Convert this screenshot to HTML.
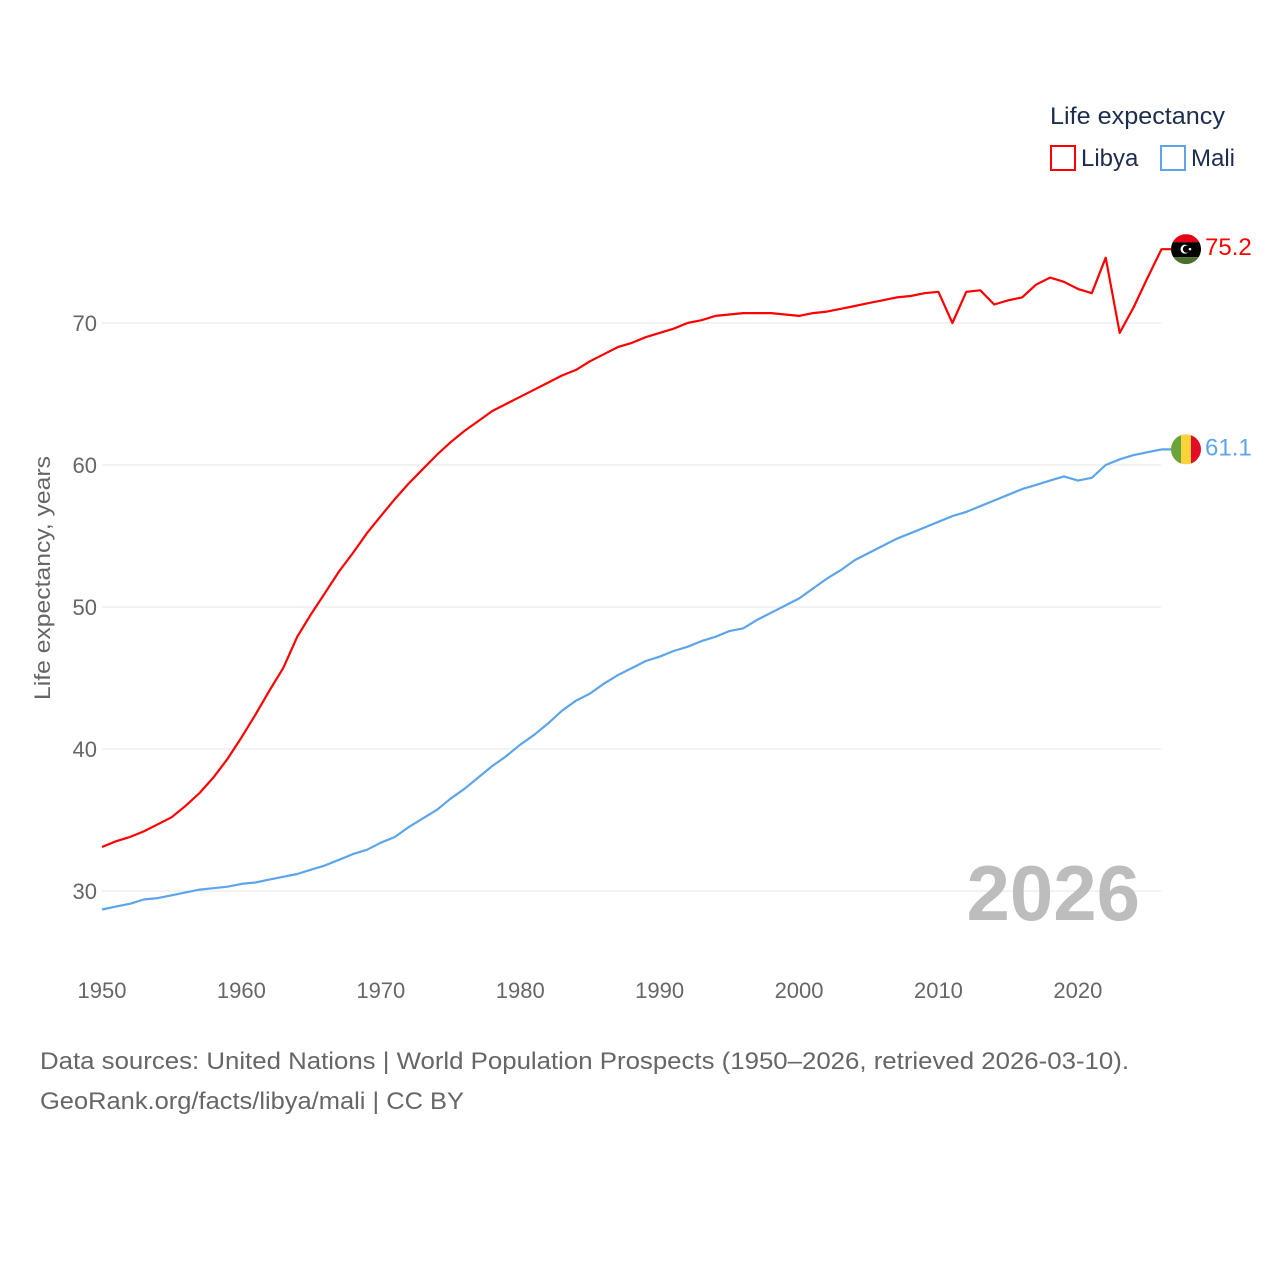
<!DOCTYPE html>
<html><head><meta charset="utf-8">
<style>
html,body{margin:0;padding:0;background:#fff;}
svg{display:block;font-family:"Liberation Sans",sans-serif;}
</style></head>
<body>
<svg id="chart" width="1280" height="1280" viewBox="0 0 1280 1280" xmlns="http://www.w3.org/2000/svg">
<g id="grid"></g>
<g id="yticks"></g>
<g id="xticks"></g>
<text transform="translate(50,578) rotate(-90)" text-anchor="middle" font-size="22" fill="#666" textLength="244" lengthAdjust="spacingAndGlyphs">Life expectancy, years</text>
<text x="1140" y="920" text-anchor="end" font-size="78" font-weight="bold" fill="#bdbdbd">2026</text>
<g id="series"></g>
<g>
<text x="1050" y="124" font-size="24" fill="#1d2d4d" textLength="175" lengthAdjust="spacingAndGlyphs">Life expectancy</text>
<g>
<rect x="1051" y="146" width="24" height="24" fill="none" stroke="#ff0000" stroke-width="2"/>
<text x="1081" y="166" font-size="24" fill="#1d2d4d">Libya</text>
</g>
<g>
<rect x="1161" y="146" width="24" height="24" fill="none" stroke="#5da5ea" stroke-width="2"/>
<text x="1191" y="166" font-size="24" fill="#1d2d4d">Mali</text>
</g>
</g>
<g id="endlabels"></g>
<text x="40" y="1069" font-size="24" fill="#666" textLength="1089" lengthAdjust="spacingAndGlyphs">Data sources: United Nations | World Population Prospects (1950–2026, retrieved 2026-03-10).</text>
<text x="40" y="1109" font-size="24" fill="#666" textLength="424" lengthAdjust="spacingAndGlyphs">GeoRank.org/facts/libya/mali | CC BY</text>
</svg>
<script>
const years = [];
for (let y = 1950; y <= 2026; y++) years.push(y);
const libya = [33.1,33.5,33.8,34.2,34.7,35.2,36.0,36.9,38.0,39.3,40.8,42.4,44.1,45.7,47.9,49.5,51.0,52.5,53.8,55.2,56.4,57.6,58.7,59.7,60.7,61.6,62.4,63.1,63.8,64.3,64.8,65.3,65.8,66.3,66.7,67.3,67.8,68.3,68.6,69.0,69.3,69.6,70.0,70.2,70.5,70.6,70.7,70.7,70.7,70.6,70.5,70.7,70.8,71.0,71.2,71.4,71.6,71.8,71.9,72.1,72.2,70.0,72.2,72.3,71.3,71.6,71.8,72.7,73.2,72.9,72.4,72.1,74.6,69.3,71.1,73.2,75.2];
const mali = [28.7,28.9,29.1,29.4,29.5,29.7,29.9,30.1,30.2,30.3,30.5,30.6,30.8,31.0,31.2,31.5,31.8,32.2,32.6,32.9,33.4,33.8,34.5,35.1,35.7,36.5,37.2,38.0,38.8,39.5,40.3,41.0,41.8,42.7,43.4,43.9,44.6,45.2,45.7,46.2,46.5,46.9,47.2,47.6,47.9,48.3,48.5,49.1,49.6,50.1,50.6,51.3,52.0,52.6,53.3,53.8,54.3,54.8,55.2,55.6,56.0,56.4,56.7,57.1,57.5,57.9,58.3,58.6,58.9,59.2,58.9,59.1,60.0,60.4,60.7,60.9,61.1];
const yTicks = [30,40,50,60,70];
const xTicks = [1950,1960,1970,1980,1990,2000,2010,2020];

const NS = "http://www.w3.org/2000/svg";
const xS = yr => 102 + (yr - 1950) * (1161.5 - 102) / 76;
const yS = v => 323 + (70 - v) * 14.2;
function mk(tag, attrs, parent) {
  const e = document.createElementNS(NS, tag);
  for (const k in attrs) e.setAttribute(k, attrs[k]);
  parent.appendChild(e);
  return e;
}
const grid = document.getElementById('grid'), yt = document.getElementById('yticks'), xt = document.getElementById('xticks');
yTicks.forEach(v => {
  const l = mk('line', {x1: 102, x2: 1161, y1: yS(v), y2: yS(v), stroke: '#e6e6e6', 'stroke-width': 1}, grid);
  
  
  const t = mk('text', {x: 97, y: yS(v) + 8, 'text-anchor': 'end', 'font-size': 22, fill: '#666'}, yt);
  t.textContent = v;
  
  
});
xTicks.forEach(v => {
  const t = mk('text', {x: xS(v), y: 998, 'text-anchor': 'middle', 'font-size': 22, fill: '#666'}, xt);
  t.textContent = v;
  
  
});
const series = document.getElementById('series');
function line(vals, color, name) {
  let d = vals.map((v, i) => (i ? 'L' : 'M') + xS(years[i]).toFixed(1) + ' ' + yS(v).toFixed(1)).join(' ');
  d += ' L 1172 ' + yS(vals[vals.length - 1]).toFixed(1);
  const p = mk('path', {d: d, fill: 'none', stroke: color, 'stroke-width': 2.2, 'stroke-linejoin': 'round'}, series);
  
  
}
line(mali, '#5da5ea', 'line-mali');
line(libya, '#ff0000', 'line-libya');

const el = document.getElementById('endlabels');
const ly = yS(libya[libya.length - 1]), my = yS(mali[mali.length - 1]);
const cx = 1186;
const defs = mk('defs', {}, el);
const c1 = mk('clipPath', {id: 'cl1'}, defs); mk('circle', {cx: cx, cy: ly, r: 15}, c1);
const c2 = mk('clipPath', {id: 'cl2'}, defs); mk('circle', {cx: cx, cy: my, r: 15}, c2);
const fl = mk('g', {'clip-path': 'url(#cl1)'}, el);


mk('rect', {x: cx - 15, y: ly - 15, width: 30, height: 8, fill: '#e70013'}, fl);
mk('rect', {x: cx - 15, y: ly - 7, width: 30, height: 15, fill: '#000'}, fl);
mk('rect', {x: cx - 15, y: ly + 8, width: 30, height: 8, fill: '#4a7030'}, fl);
mk('circle', {cx: cx - 1, cy: ly, r: 4.5, fill: '#fff'}, fl);
mk('circle', {cx: cx + 0.5, cy: ly, r: 3.6, fill: '#000'}, fl);
mk('circle', {cx: cx + 4, cy: ly, r: 1.3, fill: '#fff'}, fl);
const fm = mk('g', {'clip-path': 'url(#cl2)'}, el);


mk('rect', {x: cx - 15, y: my - 15, width: 10, height: 30, fill: '#6aa33a'}, fm);
mk('rect', {x: cx - 5, y: my - 15, width: 10, height: 30, fill: '#fdd23a'}, fm);
mk('rect', {x: cx + 5, y: my - 15, width: 10, height: 30, fill: '#e30b26'}, fm);
const tl = mk('text', {x: 1205, y: ly + 6, 'font-size': 24, fill: '#ff0000'}, el);
tl.textContent = libya[libya.length - 1].toFixed(1);


const tm = mk('text', {x: 1205, y: my + 6, 'font-size': 24, fill: '#5da5ea'}, el);
tm.textContent = mali[mali.length - 1].toFixed(1);


</script>
</body></html>
